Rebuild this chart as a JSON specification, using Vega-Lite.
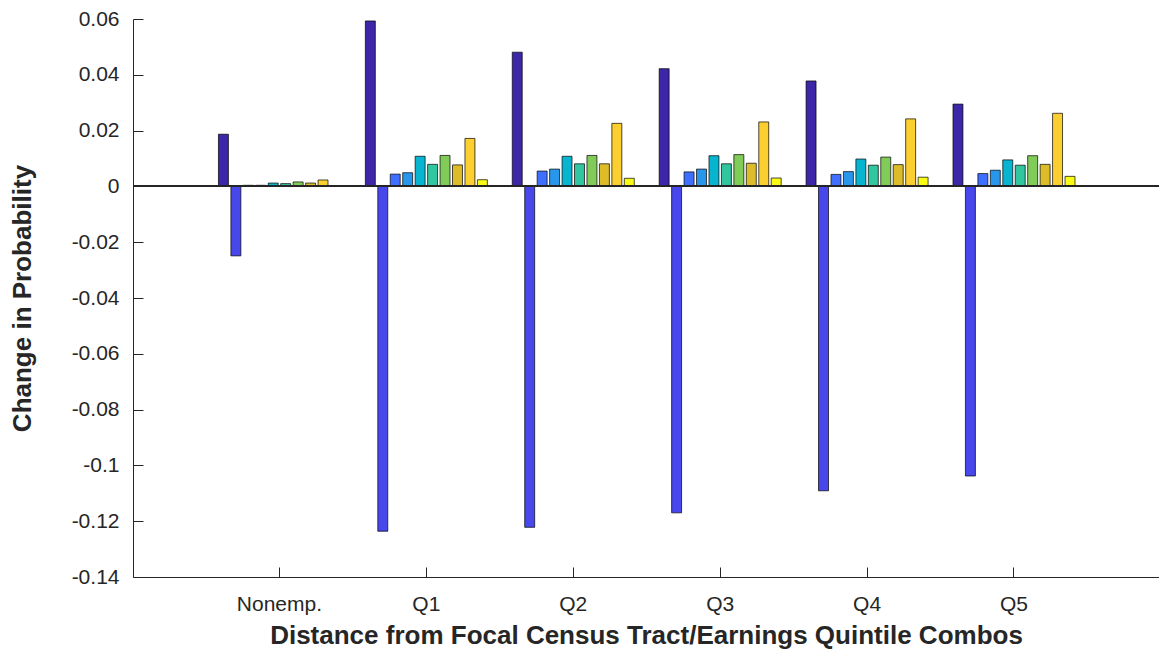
{
  "$schema": "https://vega.github.io/schema/vega-lite/v6.json",
  "width": 1026,
  "height": 558,
  "autosize": {"type": "none"},
  "padding": {"left": 133, "top": 19, "right": 0, "bottom": 72},
  "background": "white",
  "config": {
    "view": {"stroke": null},
    "font": "Liberation Sans",
    "axis": {
      "domainColor": "#262626",
      "tickColor": "#262626",
      "labelColor": "#262626",
      "titleColor": "#262626",
      "labelFont": "Liberation Sans",
      "titleFont": "Liberation Sans",
      "labelFontSize": 21,
      "titleFontSize": 26,
      "titleFontWeight": "bold",
      "grid": false,
      "domainWidth": 1,
      "tickWidth": 1
    }
  },
  "data": {
    "values": [
      {"g": "Nonemp.", "s": 1, "v": 0.0187},
      {"g": "Nonemp.", "s": 2, "v": -0.0249},
      {"g": "Nonemp.", "s": 3, "v": 0.0004},
      {"g": "Nonemp.", "s": 4, "v": 0.0004},
      {"g": "Nonemp.", "s": 5, "v": 0.0012},
      {"g": "Nonemp.", "s": 6, "v": 0.0010},
      {"g": "Nonemp.", "s": 7, "v": 0.0016},
      {"g": "Nonemp.", "s": 8, "v": 0.0012},
      {"g": "Nonemp.", "s": 9, "v": 0.0023},
      {"g": "Nonemp.", "s": 10, "v": 0.0002},
      {"g": "Q1", "s": 1, "v": 0.0593},
      {"g": "Q1", "s": 2, "v": -0.1236},
      {"g": "Q1", "s": 3, "v": 0.0044},
      {"g": "Q1", "s": 4, "v": 0.0049},
      {"g": "Q1", "s": 5, "v": 0.0108},
      {"g": "Q1", "s": 6, "v": 0.0079},
      {"g": "Q1", "s": 7, "v": 0.0111},
      {"g": "Q1", "s": 8, "v": 0.0077},
      {"g": "Q1", "s": 9, "v": 0.0172},
      {"g": "Q1", "s": 10, "v": 0.0024},
      {"g": "Q2", "s": 1, "v": 0.0481},
      {"g": "Q2", "s": 2, "v": -0.1222},
      {"g": "Q2", "s": 3, "v": 0.0055},
      {"g": "Q2", "s": 4, "v": 0.0062},
      {"g": "Q2", "s": 5, "v": 0.0108},
      {"g": "Q2", "s": 6, "v": 0.0081},
      {"g": "Q2", "s": 7, "v": 0.0111},
      {"g": "Q2", "s": 8, "v": 0.0081},
      {"g": "Q2", "s": 9, "v": 0.0226},
      {"g": "Q2", "s": 10, "v": 0.0029},
      {"g": "Q3", "s": 1, "v": 0.0422},
      {"g": "Q3", "s": 2, "v": -0.1170},
      {"g": "Q3", "s": 3, "v": 0.0052},
      {"g": "Q3", "s": 4, "v": 0.0062},
      {"g": "Q3", "s": 5, "v": 0.0110},
      {"g": "Q3", "s": 6, "v": 0.0081},
      {"g": "Q3", "s": 7, "v": 0.0114},
      {"g": "Q3", "s": 8, "v": 0.0083},
      {"g": "Q3", "s": 9, "v": 0.0231},
      {"g": "Q3", "s": 10, "v": 0.0030},
      {"g": "Q4", "s": 1, "v": 0.0378},
      {"g": "Q4", "s": 2, "v": -0.1091},
      {"g": "Q4", "s": 3, "v": 0.0043},
      {"g": "Q4", "s": 4, "v": 0.0053},
      {"g": "Q4", "s": 5, "v": 0.0098},
      {"g": "Q4", "s": 6, "v": 0.0076},
      {"g": "Q4", "s": 7, "v": 0.0105},
      {"g": "Q4", "s": 8, "v": 0.0078},
      {"g": "Q4", "s": 9, "v": 0.0242},
      {"g": "Q4", "s": 10, "v": 0.0033},
      {"g": "Q5", "s": 1, "v": 0.0295},
      {"g": "Q5", "s": 2, "v": -0.1038},
      {"g": "Q5", "s": 3, "v": 0.0046},
      {"g": "Q5", "s": 4, "v": 0.0058},
      {"g": "Q5", "s": 5, "v": 0.0095},
      {"g": "Q5", "s": 6, "v": 0.0076},
      {"g": "Q5", "s": 7, "v": 0.0110},
      {"g": "Q5", "s": 8, "v": 0.0079},
      {"g": "Q5", "s": 9, "v": 0.0262},
      {"g": "Q5", "s": 10, "v": 0.0036}
    ]
  },
  "layer": [
    {
      "mark": {"type": "bar", "stroke": "#000000", "strokeWidth": 0.7, "opacity": 1},
      "encoding": {
        "x": {
          "field": "g",
          "type": "nominal",
          "sort": ["Nonemp.", "Q1", "Q2", "Q3", "Q4", "Q5"],
          "scale": {"paddingInner": 0, "paddingOuter": 0.492, "align": 0.505},
          "axis": {
            "title": "Distance from Focal Census Tract/Earnings Quintile Combos",
            "labelAngle": 0,
            "tickSize": -10,
            "labelPadding": 26,
            "titlePadding": 8
          }
        },
        "xOffset": {
          "field": "s",
          "type": "ordinal",
          "scale": {"paddingInner": 0.2, "paddingOuter": 1.35}
        },
        "y": {
          "field": "v",
          "type": "quantitative",
          "scale": {"domain": [-0.14, 0.06], "nice": false, "zero": false},
          "axis": {
            "title": "Change in Probability",
            "values": [-0.14, -0.12, -0.1, -0.08, -0.06, -0.04, -0.02, 0, 0.02, 0.04, 0.06],
            "labelExpr": "datum.value == 0 ? '0' : toString(round(datum.value * 100) / 100)",
            "tickSize": -10,
            "labelPadding": 24,
            "titlePadding": 36
          }
        },
        "color": {
          "field": "s",
          "type": "ordinal",
          "scale": {
            "domain": [1, 2, 3, 4, 5, 6, 7, 8, 9, 10],
            "range": ["#3E26A8", "#4747EB", "#3E6FFF", "#2796EB", "#08B5D0", "#31C69F", "#81CC59", "#DCBD29", "#FCCF30", "#F9FB15"]
          },
          "legend": null
        }
      }
    },
    {
      "mark": {"type": "rule", "color": "#262626", "strokeWidth": 1},
      "encoding": {"y": {"datum": 0}}
    }
  ]
}
